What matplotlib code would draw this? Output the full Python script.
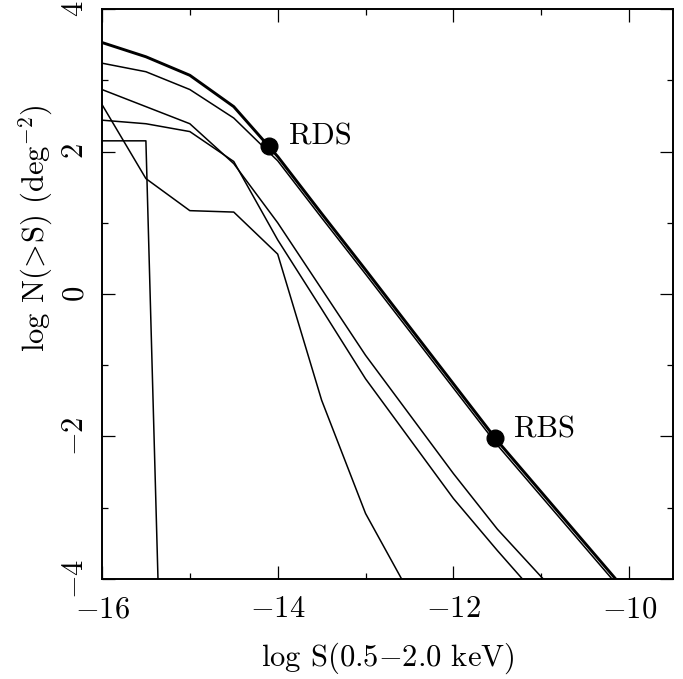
import numpy as np
import matplotlib
matplotlib.use('Agg')
import matplotlib.pyplot as plt

# log S grid (0.5-2.0 keV) where the curves are sampled
logS = [-16, -15.5, -15, -14.5, -14, -13.5, -13, -12.5, -12, -11.5, -11, -10.5, -10]

# log N(>S) curves
total = [3.53, 3.33, 3.07, 2.63, 1.93, 1.13, 0.34, -0.46, -1.26, -2.06, -2.78, -3.50, -4.22]
curve_b = [3.24, 3.12, 2.87, 2.47, 1.87, 1.07, 0.28, -0.52, -1.32, -2.12, -2.84, -3.56, -4.28]
curve_c = [2.87, 2.63, 2.39, 1.83, 1.00, 0.07, -0.86, -1.69, -2.52, -3.30, -3.97, -4.60]
curve_d = [2.44, 2.39, 2.28, 1.86, 0.76, -0.21, -1.19, -2.03, -2.87, -3.60, -4.30]
curve_e = [2.15, 2.15, -20.2]
curve_f = [2.66, 1.62, 1.17, 1.15, 0.56, -1.49, -3.08, -4.20]

# survey points
surveys = ['RDS', 'RBS']
survey_S = [-14.10, -11.53]
survey_N = [2.08, -2.02]

plt.rcParams['font.family'] = 'serif'
plt.rcParams['font.serif'] = ['cmr10']
plt.rcParams['mathtext.fontset'] = 'cm'
plt.rcParams['axes.formatter.use_mathtext'] = True
plt.rcParams['axes.unicode_minus'] = True

fig = plt.figure(figsize=(6.83, 6.79), dpi=100)
ax = fig.add_axes([0.1493, 0.1473, 0.8361, 0.8394])

thin = 1.1
ax.plot(logS, total, color='black', lw=2.1)
ax.plot(logS, curve_b, color='black', lw=thin)
ax.plot(logS[:len(curve_c)], curve_c, color='black', lw=thin)
ax.plot(logS[:len(curve_d)], curve_d, color='black', lw=thin)
ax.plot(logS[:len(curve_e)], curve_e, color='black', lw=thin)
ax.plot(logS[:len(curve_f)], curve_f, color='black', lw=thin)

ax.plot(survey_S, survey_N, 'o', color='black', ms=12, zorder=5)
ax.text(-13.87, 2.20, surveys[0], fontsize=22, ha='left', va='center')
ax.text(-11.31, -1.91, surveys[1], fontsize=22, ha='left', va='center')

ax.set_xlim(-16, -9.5)
ax.set_ylim(-4, 4)
ax.set_xticks([-16, -14, -12, -10])
ax.set_xticks([-15, -13, -11], minor=True)
ax.set_yticks([-4, -2, 0, 2, 4])
ax.set_yticks([-3, -1, 1, 3], minor=True)

ax.tick_params(which='both', direction='in', top=True, right=True, width=0.9, labelsize=22)
ax.tick_params(which='major', length=9.5)
ax.tick_params(which='minor', length=4.5)
ax.tick_params(axis='x', pad=12)
ax.tick_params(axis='y', pad=9, labelrotation=90)
for lab in ax.get_yticklabels():
    lab.set_va('center')
for sp in ax.spines.values():
    sp.set_linewidth(1.4)

ax.set_xlabel('log S(0.5$-$2.0 keV)', fontsize=22)
ax.xaxis.set_label_coords(0.5, -0.108)
ax.set_ylabel(r'log N($\!>\!$S) (deg$^{-2}$)', fontsize=22)
ax.yaxis.set_label_coords(-0.083, 0.616)

fig.savefig('out.png', dpi=100)
